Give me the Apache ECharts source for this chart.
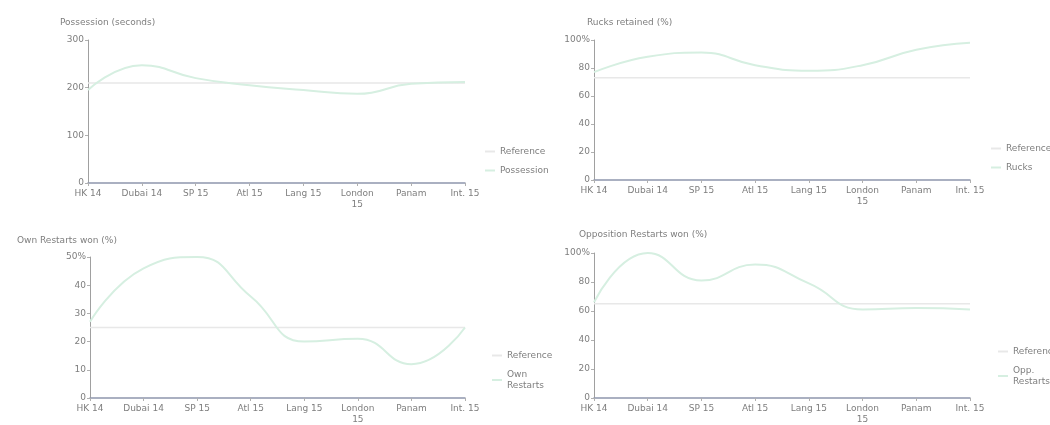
<!DOCTYPE html>
<html lang="en">
<head>
    <meta charset="UTF-8">
    <script src="https://cdn.jsdelivr.net/npm/echarts@6/dist/echarts.min.js"></script>
    <title>Team stats</title>
    <style>
        body { margin: 0; background: #fff; }
    </style>
</head>
<body>
<div id="chart" style="width: 1050px;height: 425px"></div>

<script type="text/javascript">
    // tournaments
    var tournaments = ['HK 14', 'Dubai 14', 'SP 15', 'Atl 15', 'Lang 15', 'London\n15', 'Panam', 'Int. 15']

    // possession (seconds)
    var possession = [195, 247, 220, 205, 195, 187, 208, 212]
    var possessionRef = [210, 210, 210, 210, 210, 210, 210, 210]

    // rucks retained (%)
    var rucks = [77, 88, 91, 82, 78, 82, 93, 98]
    var rucksRef = [73, 73, 73, 73, 73, 73, 73, 73]

    // own restarts won (%)
    var ownRestarts = [27, 46, 50, 36, 20, 21, 12, 25]
    var ownRestartsRef = [25, 25, 25, 25, 25, 25, 25, 25]

    // opposition restarts won (%)
    var oppRestarts = [66, 100, 81, 92, 79, 61, 62, 61]
    var oppRestartsRef = [65, 65, 65, 65, 65, 65, 65, 65]

    var refColor = '#e8e8e8'
    var seriesColor = '#d6efe1'
    var textColor = '#7e7e7e'

    var panels = [
        {title: 'Possession (seconds)', name: 'Possession', data: possession, ref: possessionRef,
            max: 300, interval: 100, pct: false,
            grid: {left: 88, top: 40, width: 377, height: 143},
            titlePos: {left: 55, top: 13}, legendPos: {left: 480, top: 141}},
        {title: 'Rucks retained (%)', name: 'Rucks', data: rucks, ref: rucksRef,
            max: 100, interval: 20, pct: true,
            grid: {left: 594, top: 40, width: 376, height: 140},
            titlePos: {left: 582, top: 13}, legendPos: {left: 986, top: 138}},
        {title: 'Own Restarts won (%)', name: 'Own Restarts', data: ownRestarts, ref: ownRestartsRef,
            max: 50, interval: 10, pct: true,
            grid: {left: 90, top: 257, width: 375, height: 142},
            titlePos: {left: 12, top: 231}, legendPos: {left: 487, top: 345}},
        {title: 'Opposition Restarts won (%)', name: 'Opp. Restarts', data: oppRestarts, ref: oppRestartsRef,
            max: 100, interval: 20, pct: true,
            grid: {left: 594, top: 253, width: 376, height: 145},
            titlePos: {left: 574, top: 225}, legendPos: {left: 993, top: 341}}
    ]

    var option = {
        animation: false,
        textStyle: {fontFamily: 'DejaVu Sans'},
        title: [],
        legend: [],
        grid: [],
        xAxis: [],
        yAxis: [],
        series: []
    }

    panels.forEach(function (p, i) {
        option.title.push({
            text: p.title,
            left: p.titlePos.left,
            top: p.titlePos.top,
            textStyle: {fontSize: 9, fontWeight: 'normal', color: textColor}
        })
        option.grid.push(p.grid)
        option.xAxis.push({
            type: 'category',
            gridIndex: i,
            data: tournaments,
            boundaryGap: false,
            axisLine: {lineStyle: {color: '#8e96ad', width: 1.5}},
            axisTick: {show: true, length: 3, lineStyle: {color: '#b0b0b0'}},
            axisLabel: {fontSize: 9, color: textColor, interval: 0, margin: 5, lineHeight: 11},
            splitLine: {show: false}
        })
        option.yAxis.push({
            type: 'value',
            gridIndex: i,
            min: 0,
            max: p.max,
            interval: p.interval,
            axisLine: {show: true, lineStyle: {color: '#a0a0a0'}},
            axisTick: {show: true, length: 3, lineStyle: {color: '#b0b0b0'}},
            axisLabel: {
                fontSize: 9, color: textColor, margin: 4,
                formatter: function (v) {
                    return (p.pct && v === p.max) ? v + '%' : v
                }
            },
            splitLine: {show: false}
        })
        option.legend.push({
            data: ['Reference', p.name],
            left: p.legendPos.left,
            top: p.legendPos.top,
            orient: 'vertical',
            itemWidth: 10,
            itemHeight: 2,
            itemGap: 8,
            icon: 'rect',
            textStyle: {fontSize: 9, color: textColor, lineHeight: 11},
            formatter: function (name) {
                return name === 'Reference' ? name : name.replace(' ', '\n')
            }
        })
        option.series.push({
            name: 'Reference',
            type: 'line',
            xAxisIndex: i,
            yAxisIndex: i,
            data: p.ref,
            showSymbol: false,
            lineStyle: {color: refColor, width: 1.5},
            itemStyle: {color: refColor}
        })
        option.series.push({
            name: p.name,
            type: 'line',
            xAxisIndex: i,
            yAxisIndex: i,
            data: p.data,
            smooth: true,
            showSymbol: false,
            lineStyle: {color: seriesColor, width: 2},
            itemStyle: {color: seriesColor}
        })
    })

    var myChart = echarts.init(document.getElementById('chart'))
    myChart.setOption(option)
</script>
</body>
</html>
